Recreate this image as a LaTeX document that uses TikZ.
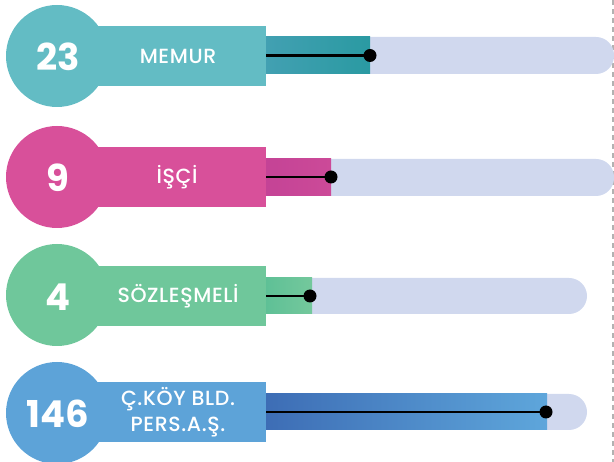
\documentclass[tikz,border=0pt]{standalone}
\usepackage{fontspec}
\setmainfont{Poppins}
\newfontfamily\labfont[LetterSpace=3]{Poppins Medium}
\definecolor{bgbar}{HTML}{D0D8EE}
\definecolor{cA}{HTML}{63BCC4}
\definecolor{cAa}{HTML}{42A0B2}
\definecolor{cAb}{HTML}{2A9AA2}
\definecolor{cB}{HTML}{D8509A}
\definecolor{cBa}{HTML}{C44396}
\definecolor{cBb}{HTML}{CC4A98}
\definecolor{cC}{HTML}{6FC79B}
\definecolor{cCa}{HTML}{5EC096}
\definecolor{cCb}{HTML}{74C89C}
\definecolor{cD}{HTML}{5DA3D8}
\definecolor{cDa}{HTML}{3D6DB5}
\definecolor{cDb}{HTML}{5EA6DB}
\tikzset{
  numtxt/.style={text=white,font=\fontsize{37}{40}\selectfont\bfseries,inner sep=0pt},
  labtxt/.style={text=white,font=\labfont\fontsize{20.5}{26}\selectfont,align=center,inner sep=0pt},
  track/.style={fill=bgbar,rounded corners=18},
  pointer/.style={line width=2.4pt,black},
  knob/.style={fill=black}
}
\begin{document}
\begin{tikzpicture}[x=1pt,y=-1pt]
\useasboundingbox (0,0) rectangle (614,462);
\clip (0,0) rectangle (614,462);
\draw[black!30,line width=1.2pt,dash pattern=on 5pt off 4pt] (613,0) -- (613,462);
% row 1
\fill[track] (250,37) rectangle (614,74);
\shade[left color=cAa,right color=cAb] (265,37) rectangle (370,74);
\fill[cA] (57,56) circle (51);
\fill[cA] (60,26) rectangle (266,86);
\coordinate (s1) at (266,55.5);
\coordinate (e1) at (370,55.5);
\draw[pointer] (s1) -- (e1);
\fill[knob] (e1) circle (6.5);
\node[numtxt] (n1) at (58,57) {23};
\node[labtxt] (l1) at (178,56) {MEMUR};
% row 2
\fill[track] (250,159) rectangle (614,196);
\shade[left color=cBa,right color=cBb] (265,159) rectangle (331,196);
\fill[cB] (57,177) circle (51);
\fill[cB] (60,147) rectangle (266,207);
\coordinate (s2) at (266,177);
\coordinate (e2) at (331,177);
\draw[pointer] (s2) -- (e2);
\fill[knob] (e2) circle (6.5);
\node[numtxt] (n2) at (58,178) {9};
\node[labtxt] (l2) at (177,177) {İŞÇİ};
% row 3
\fill[track] (250,278) rectangle (587,314);
\shade[left color=cCa,right color=cCb] (265,278) rectangle (312,314);
\fill[cC] (57,295) circle (51);
\fill[cC] (60,266) rectangle (266,326);
\coordinate (s3) at (266,296);
\coordinate (e3) at (310,296);
\draw[pointer] (s3) -- (e3);
\fill[knob] (e3) circle (6.5);
\node[numtxt] (n3) at (58,297) {4};
\node[labtxt] (l3) at (178,296) {SÖZLEŞMELİ};
% row 4
\fill[track] (250,394) rectangle (587,430);
\shade[left color=cDa,right color=cDb] (265,394) rectangle (547,430);
\fill[cD] (57,413) circle (51);
\fill[cD] (60,382) rectangle (266,442);
\coordinate (s4) at (266,412);
\coordinate (e4) at (546,412);
\draw[pointer] (s4) -- (e4);
\fill[knob] (e4) circle (6.5);
\node[numtxt] (n4) at (58,414) {146};
\node[labtxt] (l4) at (178,412) {Ç.KÖY BLD.\\PERS.A.Ş.};
\end{tikzpicture}
\end{document}
